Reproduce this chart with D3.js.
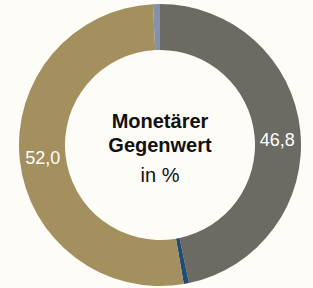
<!DOCTYPE html>
<html>
<head>
<meta charset="utf-8">
<script src="https://cdn.jsdelivr.net/npm/d3@7"></script>
<style>
  html, body { margin: 0; padding: 0; background: #fdfcf7; }
  svg { display: block; }
</style>
</head>
<body>
<svg id="chart" width="313" height="288"></svg>
<script>
const categories = ["A", "B", "C", "D"];
const values = [46.8, 0.6, 52.0, 0.8];
const labels = ["46,8", "", "52,0", ""];
const colors = ["#6c6b63", "#1f4b78", "#a3905e", "#8292aa"];
const centerLines = ["Monetärer", "Gegenwert", "in %"];

const W = 313, H = 288;
const cx = 160, cy = 145, outerR = 141, innerR = 95;

const svg = d3.select("#chart");
svg.append("rect").attr("width", W).attr("height", H).attr("fill", "#fdfcf7");

const g = svg.append("g").attr("transform", `translate(${cx},${cy})`);

const data = categories.map((c, i) => ({ cat: c, value: values[i], label: labels[i], color: colors[i] }));

const pie = d3.pie().value(d => d.value).sort(null);
const arc = d3.arc().innerRadius(innerR).outerRadius(outerR);
const labelArc = d3.arc().innerRadius((innerR + outerR) / 2).outerRadius((innerR + outerR) / 2);

const arcs = pie(data);

g.selectAll("path.slice")
  .data(arcs)
  .join("path")
  .attr("class", "slice")
  .attr("d", arc)
  .attr("fill", d => d.data.color);

g.selectAll("text.val")
  .data(arcs.filter(d => d.data.label))
  .join("text")
  .attr("class", "val")
  .attr("x", d => labelArc.centroid(d)[0])
  .attr("y", d => labelArc.centroid(d)[1] + (d.index === 0 ? 7 : 0))
  .attr("dy", "0.35em")
  .attr("text-anchor", "middle")
  .attr("fill", "#ffffff")
  .style("font-family", "'Liberation Sans', Arial, Helvetica, sans-serif")
  .style("font-size", "18px")
  .text(d => d.data.label);

const center = g.append("g");
const fam = "'Liberation Sans', Arial, Helvetica, sans-serif";
center.append("text")
  .attr("x", 0).attr("y", -17)
  .attr("text-anchor", "middle")
  .attr("fill", "#111")
  .style("font-family", fam)
  .style("font-size", "20px")
  .style("font-weight", "bold")
  .text(centerLines[0]);
center.append("text")
  .attr("x", 0).attr("y", 7)
  .attr("text-anchor", "middle")
  .attr("fill", "#111")
  .style("font-family", fam)
  .style("font-size", "20px")
  .style("font-weight", "bold")
  .text(centerLines[1]);
center.append("text")
  .attr("x", 0).attr("y", 37)
  .attr("text-anchor", "middle")
  .attr("fill", "#111")
  .style("font-family", fam)
  .style("font-size", "20px")
  .text(centerLines[2]);
</script>
</body>
</html>
